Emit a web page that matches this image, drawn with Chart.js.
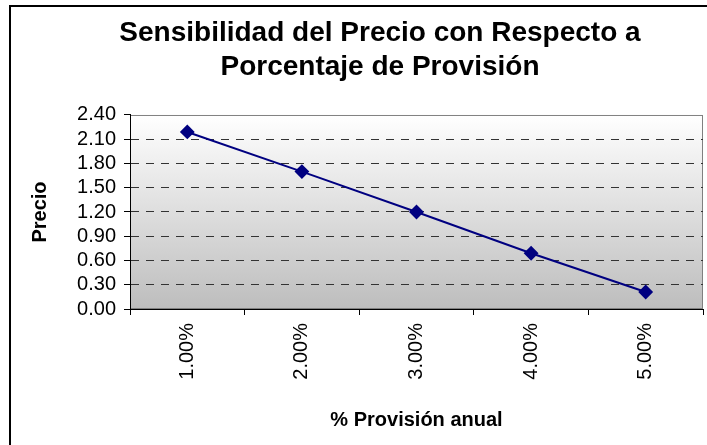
<!DOCTYPE html>
<html>
<head>
<meta charset="utf-8">
<script src="https://cdn.jsdelivr.net/npm/chart.js@4"></script>
<style>
  html, body { margin: 0; padding: 0; background: #fff; overflow: hidden; }
  #wrap { position: relative; width: 707px; height: 445px; overflow: hidden; }
  #frame { position: absolute; left: 9px; top: 5px; width: 800px; height: 600px; border: 2px solid #000; box-sizing: border-box; }
  #chart { position: absolute; left: 0; top: 0; }
</style>
</head>
<body>
<div id="wrap">
  <div id="frame"></div>
  <canvas id="chart" width="760" height="445"></canvas>
</div>
<script>
// data
var categories = ['1.00%', '2.00%', '3.00%', '4.00%', '5.00%'];
var precios = [2.19, 1.70, 1.20, 0.69, 0.21];
var yMin = 0, yMax = 2.4, yStep = 0.3;

var FONT = '"Liberation Sans", Arial, sans-serif';

// plot area: white-to-gray gradient with gray frame
var plotBg = {
  id: 'plotBg',
  beforeDraw: function (chart) {
    var a = chart.chartArea, ctx = chart.ctx;
    var g = ctx.createLinearGradient(0, a.top, 0, a.bottom);
    g.addColorStop(0, '#ffffff');
    g.addColorStop(1, '#bdbdbd');
    ctx.save();
    ctx.fillStyle = g;
    ctx.fillRect(a.left, a.top, a.right - a.left, a.bottom - a.top);
    ctx.strokeStyle = '#808080';
    ctx.lineWidth = 1;
    ctx.strokeRect(a.left + 0.5, a.top + 0.5, a.right - a.left - 1, a.bottom - a.top - 1);
    ctx.restore();
  }
};

new Chart(document.getElementById('chart'), {
  type: 'line',
  data: {
    labels: categories,
    datasets: [{
      label: 'Precio',
      data: precios,
      borderColor: '#000080',
      backgroundColor: '#000080',
      borderWidth: 2,
      pointStyle: 'rectRot',
      pointRadius: 6,
      pointBackgroundColor: '#000080',
      pointBorderColor: '#000080',
      tension: 0,
      fill: false
    }]
  },
  options: {
    responsive: false,
    animation: false,
    layout: { padding: 0 },
    plugins: {
      legend: { display: false },
      tooltip: { enabled: false },
      title: {
        display: true,
        text: ['Sensibilidad del Precio con Respecto a', 'Porcentaje de Provisión'],
        color: '#000',
        font: { family: FONT, size: 28, weight: 'bold', lineHeight: 1.214 },
        padding: { top: 16, bottom: 31 }
      }
    },
    scales: {
      x: {
        type: 'category',
        offset: true,
        afterFit: function (s) { s.height = 136; },
        grid: { display: true, drawOnChartArea: false, offset: true, tickLength: 6, color: '#000' },
        border: { display: true, color: '#000', width: 1 },
        ticks: { color: '#000', minRotation: 90, maxRotation: 90, padding: 8, autoSkip: false, font: { family: FONT, size: 20 } },
        title: {
          display: true, text: '% Provisión anual', color: '#000',
          font: { family: FONT, size: 20, weight: 'bold' },
          padding: { top: 0, bottom: 13 }
        }
      },
      y: {
        min: yMin,
        max: yMax,
        afterFit: function (s) { s.width = 130; },
        ticks: {
          stepSize: yStep, color: '#000', padding: 8, autoSkip: false,
          font: { family: FONT, size: 20 },
          callback: function (v) { return Number(v).toFixed(2); }
        },
        grid: {
          tickLength: 6,
          color: function (c) {
            var v = c.tick ? c.tick.value : null;
            if (v === null || v <= yMin + 1e-6 || v >= yMax - 1e-6) return 'rgba(0,0,0,0)';
            return '#333';
          },
          tickColor: '#000',
          tickBorderDash: []
        },
        border: { display: true, color: '#000', width: 1, dash: [8, 7] },
        title: {
          display: true, text: 'Precio', color: '#000',
          font: { family: FONT, size: 20, weight: 'bold' },
          padding: { top: 28, bottom: 0 }
        }
      },
      // empty strip on the right: the chart runs past the picture's edge
      yPad: {
        position: 'right',
        display: true,
        afterFit: function (s) { s.width = 57; },
        grid: { display: false },
        border: { display: false },
        ticks: { display: false }
      }
    }
  },
  plugins: [plotBg]
});
</script>
</body>
</html>
